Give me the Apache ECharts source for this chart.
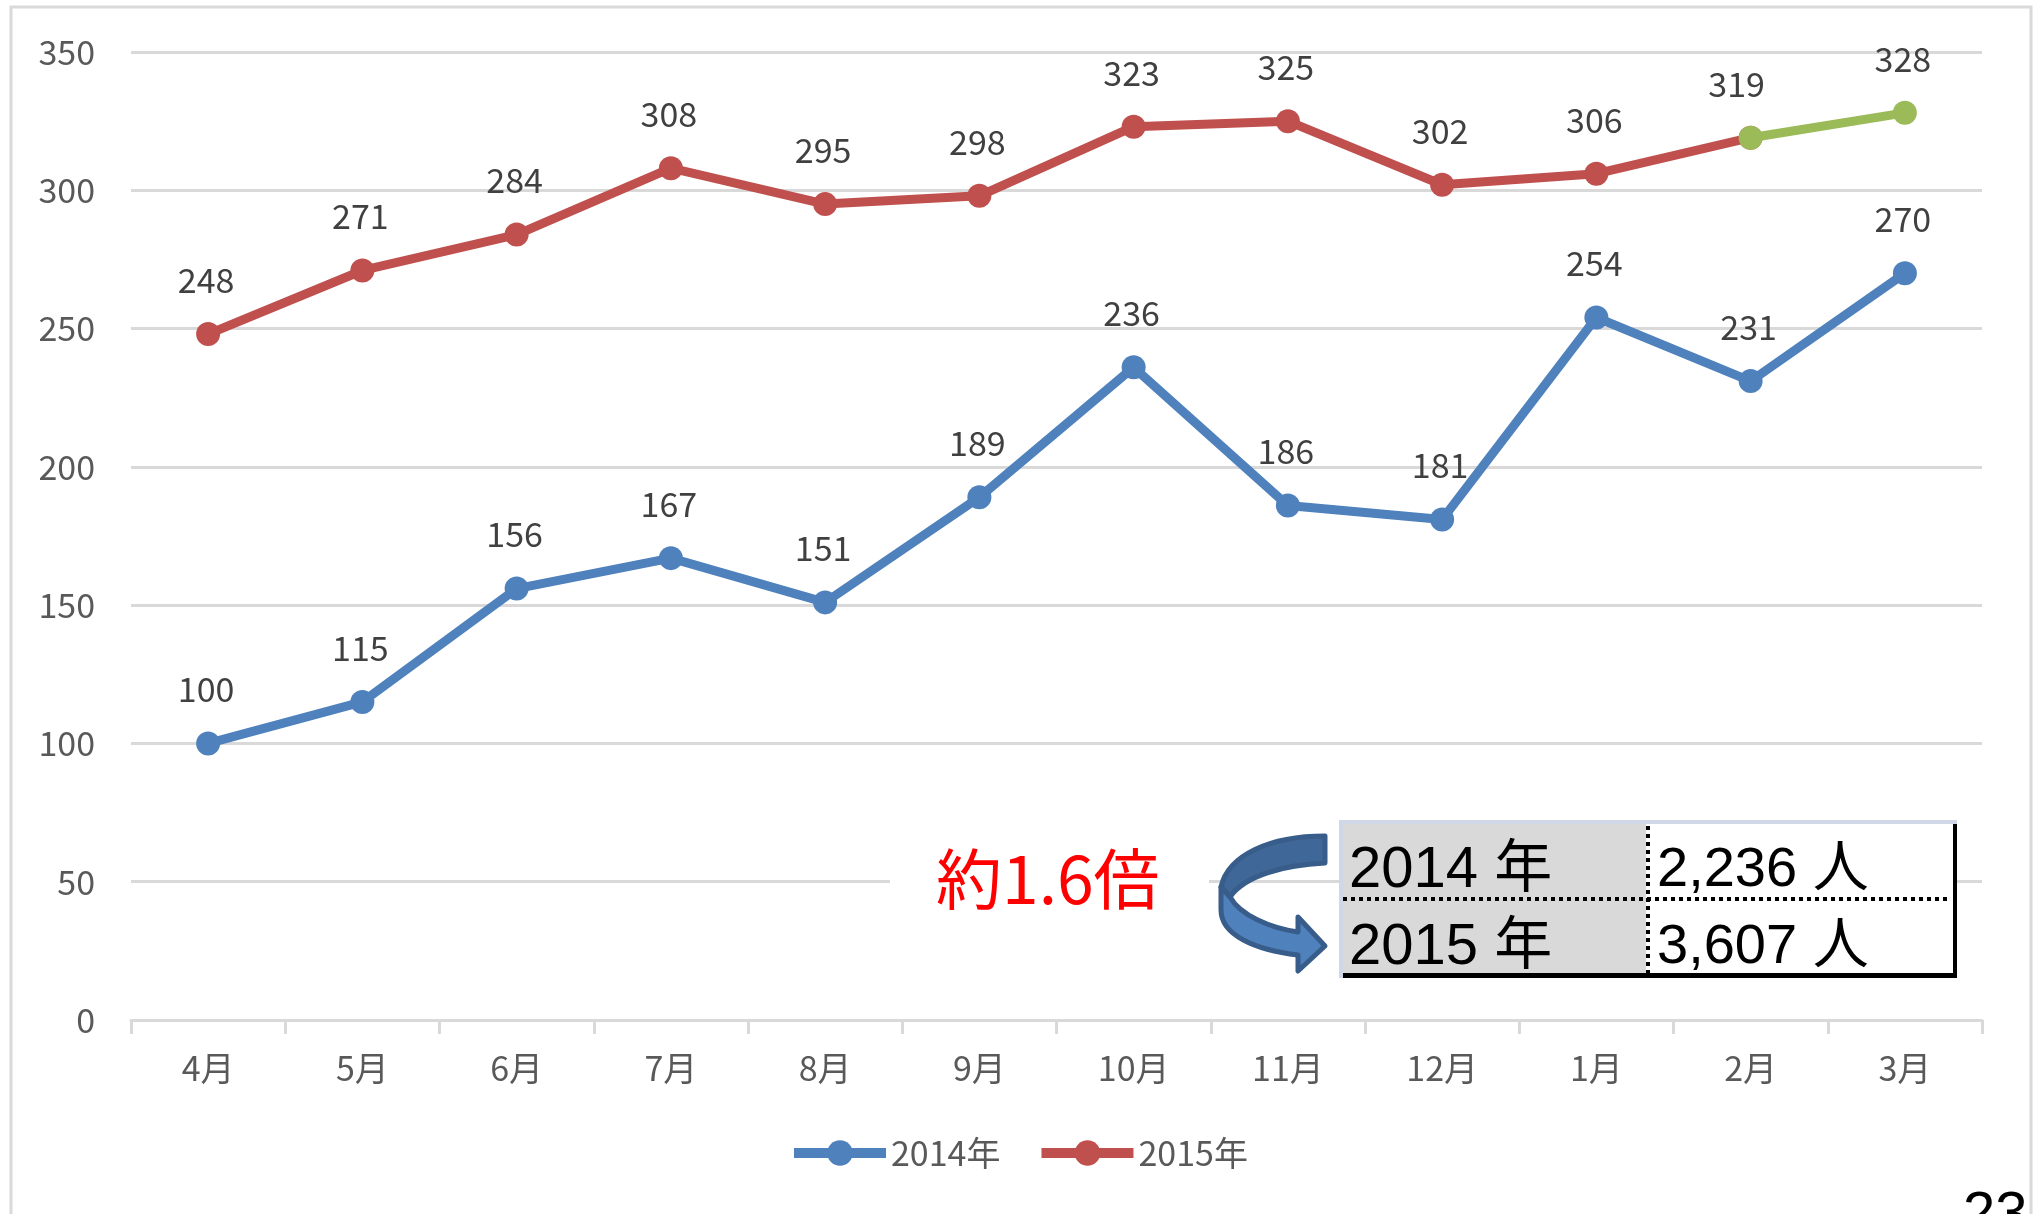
<!DOCTYPE html>
<html>
<head>
<meta charset="utf-8">
<title>chart</title>
<script src="https://cdn.jsdelivr.net/npm/echarts@6/dist/echarts.min.js"></script>
<style>
  html, body { margin: 0; padding: 0; background: #fff; overflow: hidden; }
  #main { width: 2038px; height: 1214px; }
</style>
</head>
<body>
<div id="main"></div>
<script>
var categories = ["4月", "5月", "6月", "7月", "8月", "9月", "10月", "11月", "12月", "1月", "2月", "3月"];
var values2014 = [100, 115, 156, 167, 151, 189, 236, 186, 181, 254, 231, 270];
var values2015 = [248, 271, 284, 308, 295, 298, 323, 325, 302, 306, 319];
var valuesLast = [null, null, null, null, null, null, null, null, null, null, 319, 328];
var seriesNames = ["2014年", "2015年"];
var tableYears = ["2014 年", "2015 年"];
var tableTotals = ["2,236 人", "3,607 人"];
var ratioText = "約1.6倍";
var pageNumber = "23";

var FONT = '"Noto Sans CJK JP", "Liberation Sans", sans-serif';
var TABLE_FONT = '"Liberation Sans", "Noto Sans CJK JP", sans-serif';
var BLUE = "#4f81bd", RED = "#c0504d", GREEN = "#9bbb59", GRID = "#d9d9d9";

// graphic component has no plain "path" type, so register the two arrow parts
echarts.graphic.registerShape("arrowTop", echarts.graphic.extendPath(
  "M1325 836 L1325 863 C1285 865 1245 875 1230 897 L1221 887 C1228 855 1270 836 1325 836 Z"));
echarts.graphic.registerShape("arrowBottom", echarts.graphic.extendPath(
  "M1221 887 L1230 897 C1240 915 1270 928 1298 932 L1298 917 L1325 946 L1298 971 L1298 955 C1255 950 1221 935 1221 910 Z"));

function lineSeries(name, data, color, z) {
  return {
    name: name,
    type: "line",
    data: data,
    z: z,
    symbol: "circle",
    symbolSize: 24,
    showAllSymbol: true,
    connectNulls: false,
    lineStyle: { color: color, width: 9 },
    itemStyle: { color: color },
    label: {
      show: true,
      position: "top",
      distance: 25,
      offset: [-2, 0],
      color: "#404040",
      fontSize: 34,
      fontFamily: FONT,
      formatter: function (p) { return p.value == null ? "" : p.value; }
    },
    emphasis: { disabled: true },
    animation: false
  };
}

// last 2015 segment is green, and its 319 label sits further left
var series2015 = lineSeries(seriesNames[1], values2015.map(function (v, i) {
  return i === 10 ? { value: v, label: { offset: [-14, 0] } } : v;
}), RED, 3);
var seriesLast = lineSeries("last", valuesLast, GREEN, 4);
seriesLast.label = { show: true, position: "top", distance: 25, offset: [-2, 0], color: "#404040", fontSize: 34, fontFamily: FONT,
  formatter: function (p) { return p.dataIndex === 11 ? p.value : ""; } };

var option = {
  backgroundColor: "#fff",
  animation: false,
  grid: { left: 131, right: 56, top: 52, bottom: 194 },
  legend: {
    data: seriesNames,
    left: 784,
    top: 1131,
    itemWidth: 92,
    itemHeight: 32,
    itemGap: 36,
    lineStyle: { width: 10 },
    textStyle: { color: "#595959", fontSize: 34, fontFamily: FONT, padding: [0, 0, 15, 0] }
  },
  xAxis: {
    type: "category",
    data: categories,
    boundaryGap: true,
    axisLine: { lineStyle: { color: GRID, width: 3 } },
    axisTick: { show: true, length: 14, lineStyle: { color: GRID, width: 3 } },
    axisLabel: { color: "#595959", fontSize: 34, fontFamily: FONT, margin: 31, interval: 0 }
  },
  yAxis: {
    type: "value",
    min: 0,
    max: 350,
    interval: 50,
    axisLine: { show: false },
    axisTick: { show: false },
    splitLine: { lineStyle: { color: GRID, width: 3 } },
    axisLabel: { color: "#595959", fontSize: 34, fontFamily: FONT, margin: 36, padding: [0, 0, 3, 0] }
  },
  series: [
    lineSeries(seriesNames[0], values2014, BLUE, 3),
    series2015,
    seriesLast
  ],
  graphic: [
    // outer frame of the slide picture
    { type: "rect", z: 50, shape: { x: 11, y: 7, width: 2020, height: 1260 }, style: { fill: "none", stroke: GRID, lineWidth: 3 } },
    // white box behind the ratio text
    { type: "rect", z: 50, shape: { x: 890, y: 860, width: 319, height: 46 }, style: { fill: "#fff" } },
    { type: "text", z: 51, style: { text: ratioText, x: 936, y: 879, fill: "#ff0000", font: "66px " + FONT, verticalAlign: "middle" } },
    // curved arrow
    { type: "arrowTop", z: 52, style: { fill: "#3f6797", stroke: "#385d8a", lineWidth: 5, lineJoin: "round" } },
    { type: "arrowBottom", z: 52, style: { fill: BLUE, stroke: "#385d8a", lineWidth: 5, lineJoin: "round" } },
    // small table
    { type: "rect", z: 60, shape: { x: 1339, y: 820, width: 618, height: 158 }, style: { fill: "#fff" } },
    { type: "rect", z: 61, shape: { x: 1339, y: 820, width: 618, height: 4 }, style: { fill: "#d0d8e8" } },
    { type: "rect", z: 61, shape: { x: 1339, y: 820, width: 4, height: 158 }, style: { fill: "#d0d8e8" } },
    { type: "rect", z: 61, shape: { x: 1343, y: 824, width: 303, height: 149 }, style: { fill: "#d9d9d9" } },
    { type: "line", z: 62, shape: { x1: 1343, y1: 899, x2: 1948, y2: 899 }, style: { stroke: "#000", lineWidth: 4, lineDash: [4, 4] } },
    { type: "line", z: 62, shape: { x1: 1648, y1: 826, x2: 1648, y2: 973 }, style: { stroke: "#000", lineWidth: 4, lineDash: [4, 4] } },
    { type: "line", z: 62, shape: { x1: 1955, y1: 824, x2: 1955, y2: 978 }, style: { stroke: "#000", lineWidth: 4 } },
    { type: "line", z: 62, shape: { x1: 1343, y1: 975.5, x2: 1957, y2: 975.5 }, style: { stroke: "#000", lineWidth: 5 } },
    { type: "text", z: 63, style: { text: tableYears[0], x: 1349, y: 900, fill: "#000", font: "58px " + TABLE_FONT, verticalAlign: "bottom" } },
    { type: "text", z: 63, style: { text: tableYears[1], x: 1349, y: 977, fill: "#000", font: "58px " + TABLE_FONT, verticalAlign: "bottom" } },
    { type: "text", z: 63, style: { text: tableTotals[0], x: 1657, y: 899, fill: "#000", font: "56px " + TABLE_FONT, verticalAlign: "bottom" } },
    { type: "text", z: 63, style: { text: tableTotals[1], x: 1657, y: 976, fill: "#000", font: "56px " + TABLE_FONT, verticalAlign: "bottom" } },
    // page number, cut by the bottom edge
    { type: "text", z: 63, style: { text: pageNumber, x: 1963, y: 1187, fill: "#000", font: "58px " + TABLE_FONT, verticalAlign: "top" } }
  ]
};

var chart = echarts.init(document.getElementById("main"), null, { renderer: "canvas" });
chart.setOption(option);
</script>
</body>
</html>
